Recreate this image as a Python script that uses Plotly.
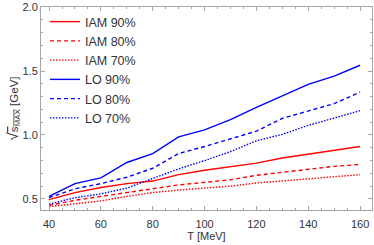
import plotly.graph_objects as go

T = [40, 50, 60, 70, 80, 90, 100, 110, 120, 130, 140, 150, 160]
IAM90 = [0.495, 0.55, 0.59, 0.62, 0.64, 0.69, 0.725, 0.75, 0.78, 0.82, 0.85, 0.88, 0.91]
IAM80 = [0.45, 0.49, 0.52, 0.55, 0.585, 0.61, 0.63, 0.65, 0.685, 0.71, 0.735, 0.755, 0.77]
IAM70 = [0.44, 0.46, 0.485, 0.52, 0.55, 0.57, 0.585, 0.60, 0.625, 0.64, 0.66, 0.675, 0.69]
LO90 = [0.52, 0.62, 0.665, 0.785, 0.855, 0.985, 1.04, 1.12, 1.215, 1.305, 1.395, 1.46, 1.545]
LO80 = [0.51, 0.58, 0.62, 0.67, 0.74, 0.855, 0.91, 0.97, 1.03, 1.13, 1.19, 1.245, 1.335]
LO70 = [0.46, 0.51, 0.54, 0.585, 0.66, 0.735, 0.80, 0.87, 0.955, 1.005, 1.075, 1.13, 1.19]

series = [
    ("IAM 90%", IAM90, "#ff0000", "solid"),
    ("IAM 80%", IAM80, "#ff0000", "4px,3px"),
    ("IAM 70%", IAM70, "#ff0000", "1.5px,1.5px"),
    ("LO 90%", LO90, "#0000ff", "solid"),
    ("LO 80%", LO80, "#0000ff", "4px,3px"),
    ("LO 70%", LO70, "#0000ff", "1.5px,1.5px"),
]

fig = go.Figure()
for name, ys, col, dash in series:
    fig.add_trace(go.Scatter(x=T, y=ys, mode="lines", name=name,
                             line=dict(color=col, width=1.4, dash=dash)))

axis_common = dict(
    showline=True, linecolor="#a6a6a6", linewidth=1, mirror="ticks",
    ticks="inside", ticklen=4, tickcolor="#a6a6a6", tickwidth=1,
    showgrid=False, zeroline=False,
    tickfont=dict(family="Liberation Sans", size=11, color="#333333"),
)

fig.update_xaxes(range=[36.9, 164.6], tick0=40, dtick=20,
                 minor=dict(ticks="inside", ticklen=2, dtick=5, tickcolor="#a6a6a6"),
                 title=dict(text="T [MeV]", font=dict(family="Liberation Sans", size=11, color="#333333"), standoff=0),
                 ticklabelstandoff=4,
                 **axis_common)
fig.update_yaxes(range=[0.414, 2.0], tick0=0.5, dtick=0.5, tickformat=".1f",
                 minor=dict(ticks="inside", ticklen=2, dtick=0.1, tickcolor="#a6a6a6"),
                 title=dict(text="<span style='font-size:15px'>√</span><span style='text-decoration:overline'>s<sub>MAX</sub></span> [GeV]",
                            font=dict(family="Liberation Sans", size=11.5, color="#333333"), standoff=0),
                 **axis_common)

fig.update_layout(
    width=374, height=245,
    margin=dict(l=41, r=2, t=7, b=35),
    plot_bgcolor="white", paper_bgcolor="white",
    legend=dict(x=0.012, y=1.0, xanchor="left", yanchor="top",
                bgcolor="rgba(0,0,0,0)",
                font=dict(family="Liberation Sans", size=12.5, color="#333333"),
                itemwidth=30, tracegroupgap=0),
)

fig.write_html("out.html", config={"displayModeBar": False},
               post_script="document.body.style.margin='0px';")
